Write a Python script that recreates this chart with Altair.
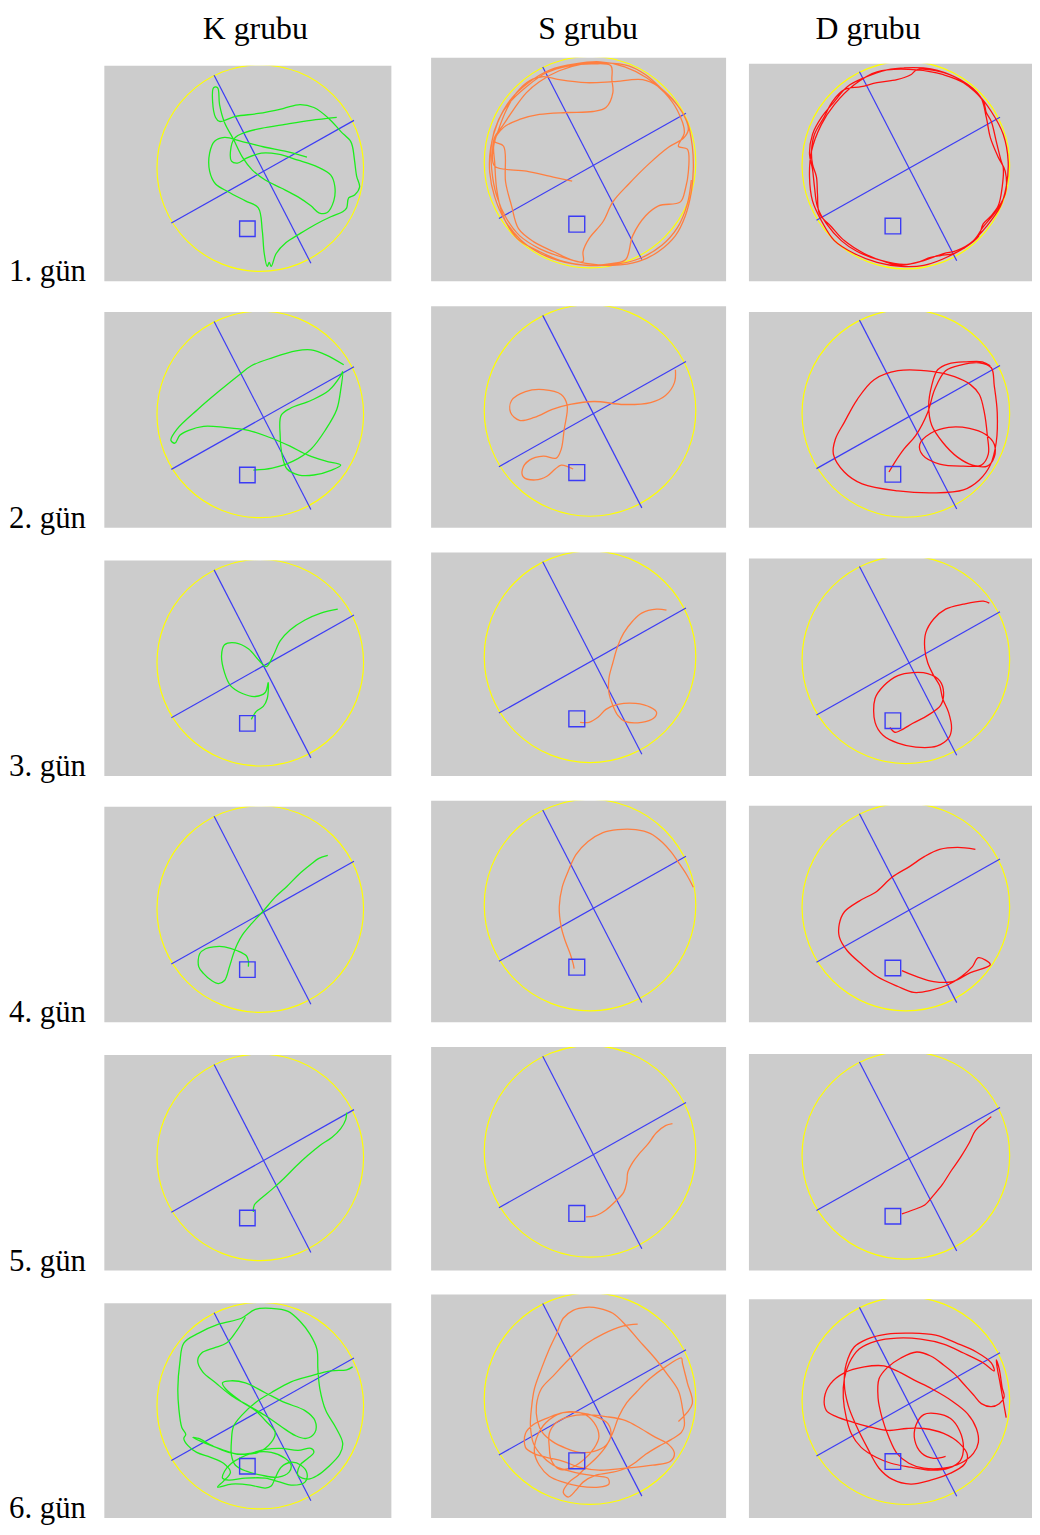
import altair as alt
import pandas as pd

# ---------------- text ----------------
GROUPS = ["K grubu", "S grubu", "D grubu"]
DAYS = ["1. gün", "2. gün", "3. gün", "4. gün", "5. gün", "6. gün"]

# ---------------- pool geometry (unit radius, y pointing down) ----------------
QUAD_X1 = [-0.447, -0.861]
QUAD_Y1 = [-0.899, 0.532]
QUAD_X2 = [0.490, 0.907]
QUAD_Y2 = [0.921, -0.462]
PLATFORM_X = [-0.125]
PLATFORM_Y = [0.587]
PLATFORM_HALF = [0.075]

# ---------------- swim paths (offsets from pool centre, y down) ----------------
K1 = [(77,-51),(51,-48),(25,-44),(1,-40),(-15,-36),(-26,-30),(-30,-17),(-29,-7),(-23,-5),(-14,-10),
      (1,-15),(18,-14),(38,-8),(58,-1),(71,7),(75,18),(74,33),(67,45),(59,45),(51,38),(38,29),(21,20),
      (5,12),(-8,2),(-18,-11),(-27,-29),(-36,-46),(-41,-64),(-43,-81),(-47,-81),(-48,-67),(-45,-51),
      (-41,-47),(-25,-52),(-2,-55),(23,-60),(40,-64),(54,-61),(69,-50),(81,-37),(91,-27),(93,-21),
      (95,-7),(97,8),(100,19),(95,27),(89,30),(87,40),(83,44),(71,49),(55,57),(40,66),(26,75),(16,86),
      (11,99),(9,95),(7,99),(4,86),(2,63),(-2,40),(-15,33),(-32,24),(-45,16),(-51,3),(-51,-15),
      (-46,-27),(-36,-31),(-19,-27),(5,-21),(25,-17),(47,-11)]
K2 = [(84,-50),(66,-60),(51,-65),(36,-64),(12,-57),(-9,-49),(-21,-40),(-42,-23),(-63,-5),(-84,15),
      (-90,26),(-86,29),(-81,21),(-72,16),(-57,12),(-36,13),(-12,16),(9,23),(30,32),(48,41),(66,47),
      (81,51),(72,56),(54,61),(39,61),(27,55),(22,41),(20,21),(21,1),(30,-6),(51,-14),(69,-24),
      (81,-39),(83,-43),(81,-25),(77,-5),(66,15),(51,35),(33,47),(12,54),(-7,56)]
K3 = [(78,-54),(61,-50),(45,-43),(30,-33),(20,-22),(13,-7),(6,4),(-1,-2),(-12,-14),(-25,-20),(-36,-18),
      (-39,-7),(-36,10),(-30,23),(-18,31),(-5,34),(5,30),(8,20),(7,36),(3,44),(-4,49),(-9,57)]
K4 = [(68,-54),(59,-51),(51,-45),(39,-35),(27,-23),(15,-12),(3,2),(-9,15),(-18,26),(-23,35),(-27,45),
      (-31,58),(-36,72),(-42,75),(-49,72),(-57,65),(-62,58),(-61,45),(-55,40),(-47,38),(-36,38),
      (-23,42),(-14,47),(-12,52),(-12,58)]
K5 = [(87,-45),(86,-38),(81,-29),(72,-20),(60,-12),(48,-2),(36,9),(24,21),(12,32),(0,42),(-6,48),(-7,55)]
K6 = [(93,-39),(87,-36),(71,-35),(51,-30),(31,-24),(11,-13),(-5,-3),(-18,9),(-27,21),(-29,35),(-29,50),
      (-25,60),(-14,66),(1,70),(18,72),(29,67),(31,60),(25,53),(11,47),(-5,47),(-19,52),(-29,58),
      (-36,66),(-38,73),(-32,75),(-15,73),(5,73),(20,77),(31,80),(45,77),(47,68),(41,60),(31,57),
      (21,62),(15,73),(11,81),(5,83),(-10,80),(-29,79),(-43,82),(-37,76),(-30,67),(-37,58),(-50,52),
      (-64,47),(-73,40),(-77,33),(-75,29),(-79,22),(-82,3),(-83,-17),(-81,-43),(-77,-63),(-62,-73),
      (-42,-82),(-19,-88),(-5,-97),(11,-98),(28,-95),(40,-85),(50,-72),(57,-57),(58,-37),(60,-17),
      (66,5),(76,22),(83,38),(80,49),(68,62),(58,70),(48,74),(38,70),(40,60),(48,53),(54,47),(51,43),
      (38,45),(21,43),(5,44),(-10,48),(-23,49),(-39,44),(-55,38),(-68,32),(-62,33),(-49,40),(-32,47),
      (-15,49),(-2,47),(11,37),(15,27),(6,16),(-5,5),(-19,-4),(-35,-17),(-38,-23),(-30,-25),(-15,-23),
      (5,-13),(25,-3),(45,5),(55,15),(55,27),(46,33),(35,30),(21,21),(5,10),(-12,0),(-29,-10),
      (-45,-23),(-58,-34),(-63,-45),(-59,-53),(-47,-58),(-34,-63),(-24,-75),(-15,-89)]

S1 = [(-18,19),(-37,15),(-64,9),(-96,4),(-98,-13),(-96,-25),(-87,-38),(-77,-53),(-64,-70),(-51,-81),
      (-31,-92),(-7,-99),(16,-100),(39,-97),(56,-88),(73,-73),(86,-60),(98,-40),(103,-16),(104,7),
      (102,30),(96,54),(86,74),(69,90),(49,100),(23,104),(-4,102),(-24,97),(-51,87),(-71,74),(-84,57),
      (-94,34),(-99,7),(-99,-20),(-92,-43),(-81,-60),(-64,-76),(-44,-90),(-21,-97),(3,-99),(21,-97),
      (22,-83),(23,-70),(16,-55),(3,-51),(-24,-50),(-51,-48),(-71,-43),(-87,-35),(-96,-21),(-87,-16),
      (-85,20),(-79,44),(-72,67),(-57,80),(-37,90),(-17,99),(-7,100),(-7,90),(-1,77),(13,60),(23,40),
      (39,22),(59,2),(79,-15),(94,-24),(99,-33),(93,-50),(83,-63),(69,-76),(53,-83),(23,-81),(-4,-80),
      (-31,-83),(-47,-86),(-61,-82),(-74,-70),(-84,-53),(-92,-33),(-97,-16),(-96,0),(-94,27),(-89,50),
      (-81,67),(-71,79),(-51,90),(-27,100),(-4,104),(23,102),(36,98),(43,74),(56,54),(69,44),(91,40),
      (96,27),(99,10),(98,-13),(89,-16),(95,-30),(88,-52),(75,-70),(57,-85),(35,-96),(10,-101),
      (-15,-99),(-40,-93),(-62,-80),(-80,-63),(-93,-40),(-100,-15),(-101,10),(-96,35),(-86,58),
      (-70,78),(-50,92),(-25,101),(0,104),(25,103),(50,97),(72,84),(88,66),(98,42),(102,18)]
S2 = [(86,-41),(85,-28),(76,-15),(61,-8),(34,-6),(4,-9),(-20,-6),(-38,-1),(-56,7),(-71,10),(-80,2),
      (-79,-10),(-65,-19),(-47,-21),(-29,-16),(-23,-5),(-26,19),(-29,39),(-34,48),(-47,46),(-61,50),
      (-68,59),(-67,67),(-55,70),(-43,66),(-35,59),(-29,55),(-17,59)]
S3 = [(77,-47),(67,-48),(52,-44),(43,-36),(34,-24),(28,-11),(23,6),(19,22),(19,36),(23,49),(28,59),
      (35,65),(52,66),(64,62),(67,56),(61,51),(46,47),(28,48),(16,53),(8,61),(-1,66),(-10,66)]
S4 = [(104,-18),(97,-31),(89,-43),(82,-53),(73,-63),(61,-72),(46,-76),(28,-76),(13,-73),(-2,-64),
      (-14,-51),(-22,-34),(-28,-18),(-31,2),(-29,22),(-25,36),(-20,49),(-17,59),(-16,64)]
S5 = [(83,-28),(76,-26),(67,-19),(58,-7),(49,3),(43,11),(38,21),(37,31),(34,41),(26,50),(16,59),(5,65),(-4,66)]
S6 = [(48,-75),(33,-73),(13,-65),(-4,-55),(-21,-40),(-37,-23),(-49,-10),(-54,7),(-53,22),(-48,34),
      (-38,43),(-24,50),(-11,54),(4,53),(16,47),(21,37),(18,25),(6,18),(-11,14),(-27,14),(-42,19),
      (-57,26),(-65,35),(-65,49),(-57,55),(-44,59),(-27,63),(-11,69),(9,72),(36,70),(63,67),(81,63),
      (85,55),(79,46),(66,39),(51,30),(36,22),(16,18),(-4,16),(-21,18),(-34,24),(-41,35),(-41,49),
      (-39,62),(-31,71),(-20,70),(-7,62),(4,50),(9,38),(4,24),(-7,15),(-21,13),(-33,16),(-47,27),
      (-54,40),(-56,54),(-51,67),(-41,78),(-27,84),(-11,88),(9,89),(19,86),(18,80),(8,78),(-7,76),
      (-24,72),(-37,67),(-49,57),(-57,45),(-60,27),(-59,10),(-56,-10),(-49,-30),(-41,-50),(-33,-67),
      (-27,-81),(-17,-89),(-4,-92),(9,-91),(23,-86),(36,-74),(49,-59),(66,-40),(79,-23),(89,-8),
      (93,9),(95,27),(92,34),(82,41),(69,48),(56,56),(46,64),(36,70),(23,74),(6,77),(-7,84),(-14,92),
      (-22,99),(-27,94),(-21,84),(-12,77),(-4,69),(6,60),(16,48),(23,34),(29,18),(37,4),(47,-7),
      (60,-20),(76,-32),(92,-41),(93,-36),(98,-16),(103,5),(89,23)]

D1 = [(-2,-98),(25,-97),(51,-88),(71,-73),(86,-54),(98,-31),(103,-4),(101,22),(95,42),(81,62),(65,79),
      (45,91),(18,101),(-5,102),(-29,98),(-52,89),(-72,76),(-85,56),(-94,36),(-97,12),(-95,-14),
      (-85,-41),(-72,-61),(-52,-81),(-29,-94),(11,-96),(38,-91),(58,-83),(78,-64),(81,-53),(86,-44),
      (91,-24),(96,-4),(98,2),(97,22),(93,41),(85,52),(78,59),(73,72),(58,84),(48,89),(35,91),(25,93),
      (11,98),(-5,101),(-22,97),(-42,89),(-62,76),(-75,62),(-87,49),(-89,29),(-90,12),(-94,-1),
      (-95,-14),(-92,-31),(-82,-49),(-74,-64),(-62,-76),(-45,-79),(-29,-83),(-9,-86),(5,-91),(11,-96),
      (31,-95),(55,-86),(75,-69),(81,-48),(85,-28),(93,-8),(100,6),(100,29),(91,46),(78,62),(68,76),
      (51,86),(38,89),(15,97),(-2,100),(-25,96),(-49,87),(-65,76),(-80,59),(-89,42),(-92,22),(-94,4),
      (-97,-11),(-94,-31),(-85,-48),(-72,-64),(-59,-79),(-42,-88),(-19,-96),(1,-98)]
D2 = [(85,-48),(77,-52),(61,-52),(43,-50),(32,-44),(26,-28),(23,-8),(26,12),(37,29),(52,44),(67,52),
      (82,53),(89,44),(89,31),(80,21),(64,15),(43,14),(25,20),(14,31),(17,42),(34,51),(58,53),(76,52),
      (83,41),(82,22),(79,-1),(74,-19),(65,-29),(49,-37),(28,-42),(-8,-43),(-32,-34),(-49,-14),(-62,9),
      (-71,26),(-73,41),(-62,59),(-44,71),(-8,78),(28,80),(58,77),(74,67),(85,52),(91,29),(92,-1),
      (89,-28),(86,-46),(74,-51),(56,-49),(40,-43),(29,-24),(22,-1),(10,22),(-2,36),(-11,49),(-17,59)]
D3 = [(84,-57),(78,-59),(58,-56),(40,-51),(28,-41),(20,-27),(19,-11),(22,3),(28,16),(34,26),(37,39),
      (43,53),(46,69),(43,79),(31,87),(10,88),(-8,84),(-23,76),(-31,63),(-31,39),(-22,26),(-8,16),
      (7,13),(22,14),(34,21),(38,33),(35,46),(22,56),(7,64),(-5,71),(-11,73),(-16,68)]
D4 = [(70,-58),(52,-60),(34,-58),(19,-51),(4,-41),(-14,-30),(-29,-16),(-47,-6),(-62,5),(-67,17),
      (-67,30),(-59,44),(-44,58),(-29,70),(-8,80),(8,86),(25,84),(43,78),(56,70),(67,60),(73,51),
      (85,58),(65,66),(47,75),(28,75),(11,70),(-4,64)]
D5 = [(86,-39),(79,-33),(70,-25),(64,-13),(55,2),(46,15),(37,29),(28,40),(19,50),(7,55),(-4,59)]
D6 = [(101,17),(98,0),(95,-17),(92,-33),(91,-41),(94,-32),(97,-13),(99,-4),(94,3),(86,6),(76,3),
      (68,-6),(58,-17),(49,-27),(38,-36),(25,-45),(11,-49),(-5,-43),(-19,-33),(-27,-22),(-28,-3),
      (-24,17),(-17,37),(-9,53),(3,63),(18,68),(38,68),(55,63),(68,53),(73,42),(71,28),(62,13),(46,0),
      (26,-12),(8,-21),(-9,-30),(-22,-35),(-42,-34),(-62,-28),(-76,-17),(-82,-3),(-80,10),(-70,16),
      (-52,22),(-34,27),(-17,30),(1,28),(18,28),(38,33),(54,43),(62,55),(59,64),(45,73),(25,80),(5,84),
      (-14,79),(-27,68),(-39,47),(-50,25),(-58,5),(-62,-17),(-60,-37),(-52,-54),(-39,-62),(-19,-67),
      (5,-68),(30,-66),(51,-58),(71,-49),(86,-38),(89,-30),(78,-38),(58,-48),(38,-57),(15,-62),
      (-9,-63),(-30,-60),(-47,-52),(-57,-38),(-62,-22),(-63,-3),(-60,17),(-55,33),(-45,47),(-30,57),
      (-15,63),(5,67),(25,70),(43,68),(55,60),(58,47),(54,30),(45,18),(31,13),(18,14),(10,25),(9,40),
      (16,53),(28,58),(40,56)]

PATHS = [[K1, K2, K3, K4, K5, K6], [S1, S2, S3, S4, S5, S6], [D1, D2, D3, D4, D5, D6]]

# ---------------- layout / style ----------------
PAGE = 8
COL_LEFT = [105, 434, 754]
COL_W = [289, 297, 285]
COL_SLOT = [329, 320, 285]
LABEL_W = 97
POOL_CX = [262, 594, 912]
POOL_DY = [103, 105, 102]
POOL_R = [104, 106.5, 104.5]
TOPS = [[61, 309, 559, 807, 1057, 1307],
        [53, 303, 551, 801, 1049, 1298],
        [59, 309, 557, 806, 1056, 1303]]
BOTTOMS = [278, 526, 776, 1024, 1274, 1523]
HEAD_X = [152, 158, 120]
HEAD_SIZE = 32
HEAD_Y = 26          # keeps the header's text box inside the page

FONT = "Liberation Serif"
GRAY = "#cccccc"
YELLOW = "#ffff00"
BLUE = "#3b3bf5"
COLORS = ["#1cee1c", "#ff7f40", "#ff1010"]


def text_cell(w, h, text, x, y, size, align):
    return (
        alt.Chart(pd.DataFrame({"t": [text]}))
        .mark_text(font=FONT, fontSize=size, align=align, baseline="alphabetic", color="black")
        .encode(text="t:N", x=alt.value(x), y=alt.value(y))
        .properties(width=w, height=h)
    )


def blank(w, h):
    return (
        alt.Chart(pd.DataFrame({"t": [""]}))
        .mark_text(fontSize=1, baseline="middle", opacity=0)
        .encode(text="t:N", x=alt.value(w / 2), y=alt.value(h / 2))
        .properties(width=w, height=h)
    )


def panel(c, r):
    T = TOPS[c][r]
    B = BOTTOMS[r]
    L = COL_LEFT[c]
    W = COL_W[c]
    cx = POOL_CX[c]
    cy = T + POOL_DY[c]
    R = POOL_R[c]
    sx = alt.Scale(domain=[L - cx, L + W - cx], nice=False, zero=False)
    sy = alt.Scale(domain=[T - cy, B - cy], nice=False, zero=False, reverse=True)

    def X(f):
        return alt.X(f, type="quantitative", scale=sx, axis=None)

    def Y(f):
        return alt.Y(f, type="quantitative", scale=sy, axis=None)

    pool = (
        alt.Chart(pd.DataFrame({"x": [0], "y": [0]}))
        .mark_point(shape="circle", filled=False, size=(2 * R) ** 2, color=YELLOW,
                    strokeWidth=1.2, opacity=1, clip=True)
        .encode(x=X("x"), y=Y("y"))
    )
    quad = pd.DataFrame({
        "x": [v * R for v in QUAD_X1], "y": [v * R for v in QUAD_Y1],
        "x2": [v * R for v in QUAD_X2], "y2": [v * R for v in QUAD_Y2],
    })
    rules = (
        alt.Chart(quad)
        .mark_rule(color=BLUE, strokeWidth=1.2, clip=True)
        .encode(x=X("x"), y=Y("y"), x2="x2:Q", y2="y2:Q")
    )
    plat = pd.DataFrame({
        "x": [(px - h) * R for px, h in zip(PLATFORM_X, PLATFORM_HALF)],
        "x2": [(px + h) * R for px, h in zip(PLATFORM_X, PLATFORM_HALF)],
        "y": [(py - h) * R for py, h in zip(PLATFORM_Y, PLATFORM_HALF)],
        "y2": [(py + h) * R for py, h in zip(PLATFORM_Y, PLATFORM_HALF)],
    })
    square = (
        alt.Chart(plat)
        .mark_rect(filled=False, color=BLUE, strokeWidth=1.4, clip=True)
        .encode(x=X("x"), x2="x2:Q", y=Y("y"), y2="y2:Q")
    )
    pts = PATHS[c][r]
    tr = pd.DataFrame({"x": [p[0] for p in pts], "y": [p[1] for p in pts],
                       "i": list(range(len(pts)))})
    path = (
        alt.Chart(tr)
        .mark_line(color=COLORS[c], strokeWidth=1.3, interpolate="catmull-rom", clip=True)
        .encode(x=X("x"), y=Y("y"), order="i:Q")
    )
    return alt.layer(pool, rules, path, square).properties(
        width=W, height=B - T, view=alt.ViewBackground(fill=GRAY, stroke=None)
    )


def column(c):
    items = [text_cell(COL_SLOT[c], TOPS[c][0] - PAGE, GROUPS[c], HEAD_X[c], HEAD_Y,
                       HEAD_SIZE, "center")]
    for r in range(6):
        items.append(panel(c, r))
        if r < 5:
            items.append(blank(COL_SLOT[c], TOPS[c][r + 1] - BOTTOMS[r]))
    return alt.vconcat(*items, spacing=0, bounds="flush")


def label_column():
    items = [blank(LABEL_W, TOPS[0][0] - PAGE)]
    for r in range(6):
        h = BOTTOMS[r] - TOPS[0][r]
        items.append(text_cell(LABEL_W, h, DAYS[r], 1, h, 31, "left"))
        if r < 5:
            items.append(blank(LABEL_W, TOPS[0][r + 1] - BOTTOMS[r]))
    return alt.vconcat(*items, spacing=0, bounds="flush")


chart = (
    alt.hconcat(label_column(), column(0), column(1), column(2), spacing=0)
    .properties(padding=0, background="white")
    .configure_view(stroke=None)
)

chart.save("out.html", embed_options={"renderer": "svg", "actions": False})
